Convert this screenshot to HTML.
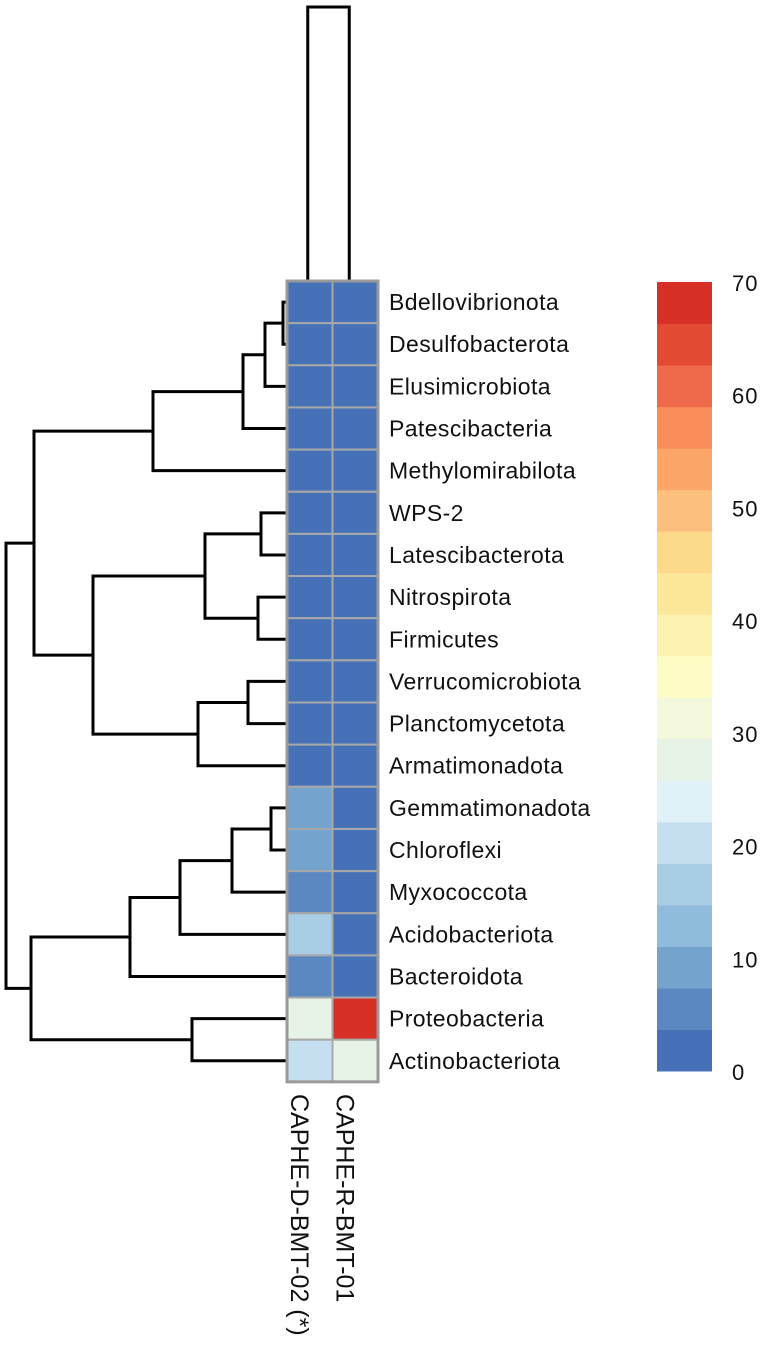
<!DOCTYPE html>
<html><head><meta charset="utf-8"><style>
html,body{margin:0;padding:0;background:#fff;}
svg{display:block;font-family:"Liberation Sans",Arial,sans-serif;}
</style></head><body>
<svg id="chart" width="767" height="1365" viewBox="0 0 767 1365" xmlns="http://www.w3.org/2000/svg">
<g id="dendro" stroke="#000" stroke-width="3" fill="none"></g>
<g id="coldendro" stroke="#000" stroke-width="3" fill="none"></g>
<g id="cells"></g>
<g id="rowlabels"></g>
<g id="collabels"></g>
<g id="cbar"></g>
</svg>
<script>
const rows = ["Bdellovibrionota","Desulfobacterota","Elusimicrobiota","Patescibacteria","Methylomirabilota","WPS-2","Latescibacterota","Nitrospirota","Firmicutes","Verrucomicrobiota","Planctomycetota","Armatimonadota","Gemmatimonadota","Chloroflexi","Myxococcota","Acidobacteriota","Bacteroidota","Proteobacteria","Actinobacteriota"];
const columns = ["CAPHE-D-BMT-02 (*)","CAPHE-R-BMT-01"];
const valuesD = [1,1,1,1,1,1,1,1,1,1,1,1,9,9,6,17,6,28,20];
const valuesR = [1,1,1,1,1,1,1,1,1,1,1,1,1,1,1,1,1,68,28];
const cbarTicks = [0,10,20,30,40,50,60,70];
const bandColors = ["#4671b6","#5b88c1","#74a3ce","#8fbbdc","#a9cde5","#c6dff0","#e0f1f8","#e6f3e6","#f3f8dd","#fdfcc5","#fdf2b0","#fde79b","#fdd98a","#fdbf7d","#fca66a","#f98e5a","#ef6a4a","#e34a33","#d73027"];
// dendrogram merges: [childA, childB, height(px x)]; leaves are row indices, nodes are "n"+index
const merges = [[0,1,283],["n0",2,265],["n1",3,243],["n2",4,153],[5,6,261],[7,8,258],["n4","n5",205],[9,10,248],["n7",11,198],["n6","n8",93],["n3","n9",34],[12,13,271],["n11",14,232],["n12",15,180],["n13",16,130],[17,18,192],["n14","n15",31],["n10","n16",6]];

const NS="http://www.w3.org/2000/svg";
const top0=281, rowH=42.15, left0=287, colW=45.5, vmax=70, nb=bandColors.length;
const rowY = i => top0 + rowH*(i+0.5);
const colX = j => left0 + colW*(j+0.5);
const colorOf = v => bandColors[Math.max(0,Math.min(nb-1,Math.floor(v/vmax*nb)))];
function el(tag, attrs, parent){const e=document.createElementNS(NS,tag);for(const k in attrs)e.setAttribute(k,attrs[k]);parent.appendChild(e);return e;}

const cells=document.getElementById('cells');
const series=[valuesD,valuesR];
series.forEach((vals,j)=>{vals.forEach((v,i)=>{
  const r=el('rect',{x:left0+colW*j,y:top0+rowH*i,width:colW,height:rowH,fill:colorOf(v),stroke:"#a8a8a8","stroke-width":2},cells);
  
  
});});
const border=el('rect',{x:left0,y:top0,width:colW*2,height:rowH*rows.length,fill:"none",stroke:"#9a9a9a","stroke-width":3},cells);



const rl=document.getElementById('rowlabels');
rows.forEach((n,i)=>{const t=el('text',{x:389,y:rowY(i)+8,"font-size":23,"letter-spacing":"0.4",fill:"#111"},rl);t.textContent=n;
  
  });

const cl=document.getElementById('collabels');
columns.forEach((n,j)=>{const x=colX(j)-19,y=1094;
  const t=el('text',{x:x,y:y,"font-size":25,fill:"#111",transform:`rotate(90 ${x} ${y})`},cl);t.textContent=n;
  
  });

const dg=document.getElementById('dendro');
const nodes={};
const pos=c=> typeof c==="number"?{x:left0,y:rowY(c)}:nodes[c];
merges.forEach((m,k)=>{const a=pos(m[0]),b=pos(m[1]),h=m[2];
  const p=el('path',{d:`M${a.x} ${a.y}H${h}V${b.y}H${b.x}`},dg);
  
  
  nodes["n"+k]={x:h,y:(a.y+b.y)/2};});

const cd=document.getElementById('coldendro');
const cp=el('path',{d:`M${colX(0)-2} ${top0}V7H${colX(1)-6}V${top0}`},cd);



const cb=document.getElementById('cbar');
const cbTop=282, cbBot=1071, cbX=657, cbW=55;
const cbY=v=>cbBot-(v/vmax)*(cbBot-cbTop);
for(let b=0;b<nb;b++){const v0=b*vmax/nb, v1=(b+1)*vmax/nb;
  const r=el('rect',{x:cbX,y:cbY(v1),width:cbW,height:cbY(v0)-cbY(v1)+0.5,fill:bandColors[b]},cb);
  
  }
cbarTicks.forEach(v=>{const t=el('text',{x:732,y:cbY(v)+9,"font-size":22,"letter-spacing":"1",fill:"#111"},cb);t.textContent=v;
  
  });
</script>
</body></html>
